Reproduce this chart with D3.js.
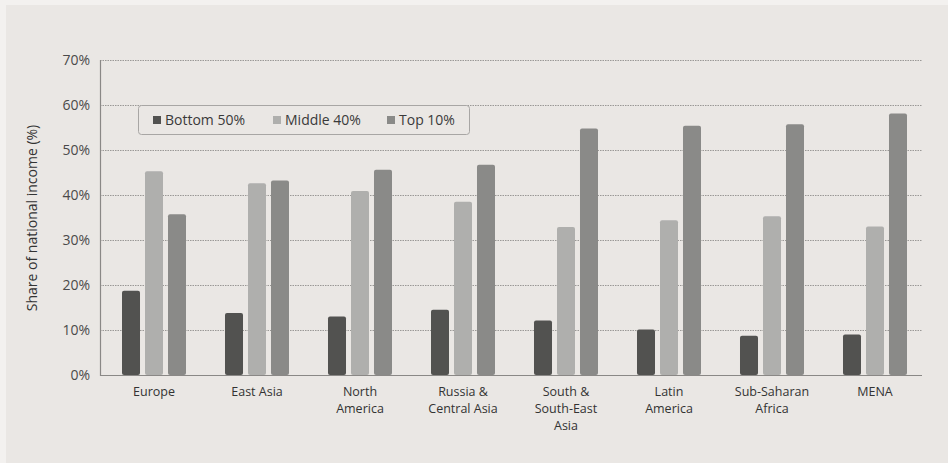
<!DOCTYPE html>
<html>
<head>
<meta charset="utf-8">
<script src="https://cdn.jsdelivr.net/npm/d3@7"></script>
<style>
  html, body { margin: 0; padding: 0; background: #f3f1ef; }
  #chart_div { width: 948px; height: 463px; }
  text { font-family: "Open Sans", Lato, sans-serif; }
</style>
</head>
<body>
<div id="chart_div"></div>
<script>
var regions = ['Europe', 'East Asia', 'North America', 'Russia & Central Asia',
  'South & South-East Asia', 'Latin America', 'Sub-Saharan Africa', 'MENA']
// label lines under the axis
var regionLabels = [['Europe'], ['East Asia'], ['North', 'America'], ['Russia &', 'Central Asia'],
  ['South &', 'South-East', 'Asia'], ['Latin', 'America'], ['Sub-Saharan', 'Africa'], ['MENA']]
var seriesNames = ['Bottom 50%', 'Middle 40%', 'Top 10%']
var bottom50 = [18.7, 13.8, 13.0, 14.5, 12.1, 10.1, 8.7, 9.0]
var middle40 = [45.3, 42.6, 40.9, 38.5, 32.9, 34.4, 35.3, 33.0]
var top10 = [35.7, 43.2, 45.6, 46.7, 54.8, 55.4, 55.7, 58.1]
var yTicks = [0, 10, 20, 30, 40, 50, 60, 70]

var colors = ['#525250', '#afafad', '#8a8a88']

function draw_chart(){
  var W = 948, H = 463
  var left = 100, right = 922, top = 60, bottom = 375

  var data = regions.map(function(r, i){
    return {region: r, values: [bottom50[i], middle40[i], top10[i]]}
  })

  var svg = d3.select('#chart_div').append('svg')
    .attr('width', W).attr('height', H)

  // panel
  svg.append('rect')
    .attr('x', 6).attr('y', 5)
    .attr('width', W - 6).attr('height', H - 5)
    .style('fill', '#eae7e4')

  var x0 = d3.scaleBand().domain(regions).range([122, 907]).paddingInner(0.3786).paddingOuter(0)
  var x1 = d3.scaleBand().domain(seriesNames).range([0, x0.bandwidth()]).paddingInner(0.217)
  var y = d3.scaleLinear().domain([0, 70]).range([bottom, top])

  // grid
  svg.append('g')
    .selectAll('line')
    .data(yTicks.filter(function(d){ return d > 0 }))
    .enter().append('line')
    .attr('x1', left).attr('x2', right)
    .attr('y1', function(d){ return y(d) + 0.5 })
    .attr('y2', function(d){ return y(d) + 0.5 })
    .style('stroke', '#9a9896')
    .style('stroke-width', '1px')
    .style('stroke-dasharray', '1.5 1')

  // y axis labels
  var yAxis = svg.append('g')
    .attr('class', 'yaxis')
    .attr('transform', 'translate(' + left + ',0)')
    .call(d3.axisLeft(y).tickValues(yTicks).tickSize(0).tickPadding(10)
      .tickFormat(function(d){ return d + '%' }))
  yAxis.select('path.domain').remove()
  yAxis.selectAll('text')
    .style('font-size', '14px')
    .style('fill', '#4a4a4a')
    .style('font-family', '"Open Sans", sans-serif')

  svg.append('text')
    .attr('text-anchor', 'middle')
    .attr('transform', 'translate(37,' + 218 + ') rotate(-90)')
    .style('font-size', '14px')
    .style('fill', '#333')
    .text('Share of national income (%)')

  // bars
  var groups = svg.selectAll('g.region')
    .data(data)
    .enter().append('g')
    .attr('class', 'region')
    .attr('transform', function(d){ return 'translate(' + x0(d.region) + ',0)' })

  groups.selectAll('rect')
    .data(function(d){ return d.values.map(function(v, i){ return {key: seriesNames[i], value: v, i: i} }) })
    .enter().append('rect')
    .attr('x', function(d){ return x1(d.key) })
    .attr('width', x1.bandwidth())
    .attr('y', function(d){ return y(d.value) })
    .attr('height', function(d){ return bottom - y(d.value) })
    .attr('rx', 2)
    .style('fill', function(d){ return colors[d.i] })

  // axes lines
  svg.append('line')
    .attr('x1', left + 0.5).attr('x2', left + 0.5)
    .attr('y1', top).attr('y2', bottom + 1)
    .style('stroke', '#8a8886').style('stroke-width', '1.2px')
  svg.append('line')
    .attr('x1', left).attr('x2', right)
    .attr('y1', bottom + 0.5).attr('y2', bottom + 0.5)
    .style('stroke', '#8a8886').style('stroke-width', '1.2px')

  // category labels, one text per line
  var labelLines = []
  regions.forEach(function(r, i){
    regionLabels[i].forEach(function(t, j){ labelLines.push({region: r, text: t, line: j}) })
  })
  svg.append('g').selectAll('text')
    .data(labelLines)
    .enter().append('text')
    .attr('text-anchor', 'middle')
    .attr('x', function(d){ return x0(d.region) + x0.bandwidth() / 2 })
    .attr('y', function(d){ return 396 + d.line * 17 })
    .style('font-size', '12.5px')
    .style('fill', '#333')
    .text(function(d){ return d.text })

  // legend
  var legend = svg.append('g').attr('transform', 'translate(138,105)')
  legend.append('rect')
    .attr('x', 0.5).attr('y', 0.5)
    .attr('width', 331).attr('height', 29)
    .attr('rx', 3)
    .style('fill', '#eae7e4')
    .style('stroke', '#a8a6a4')
    .style('stroke-width', '1px')
  var legendX = [15, 135, 249]
  seriesNames.forEach(function(s, i){
    legend.append('rect')
      .attr('x', legendX[i]).attr('y', 11)
      .attr('width', 8).attr('height', 8)
      .style('fill', colors[i])
    legend.append('text')
      .attr('x', legendX[i] + 12).attr('y', 20)
      .style('font-size', '14px')
      .style('fill', '#3a3a3a')
      .text(s)
  })
}

draw_chart()
</script>
</body>
</html>
